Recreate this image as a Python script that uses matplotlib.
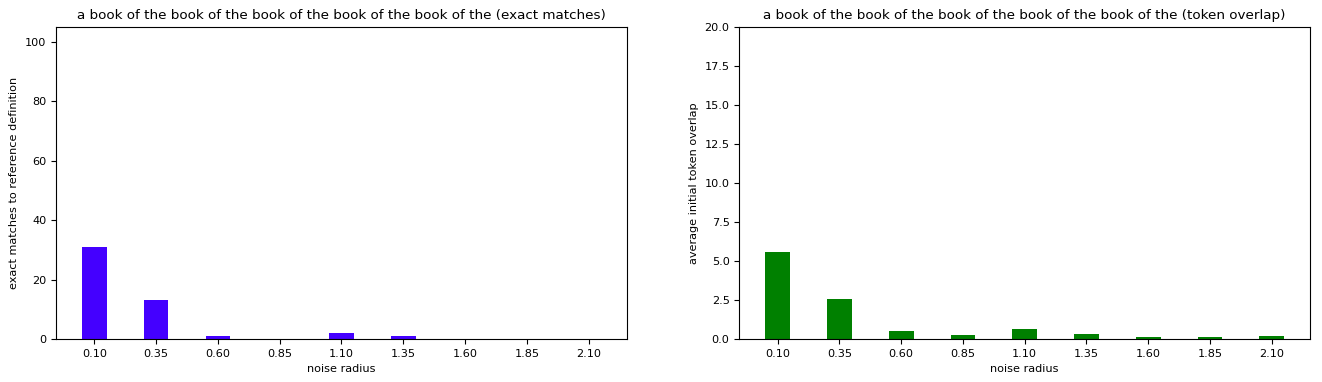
import numpy as np
from matplotlib import pyplot as plt

radius = [0.10, 0.35, 0.60, 0.85, 1.10, 1.35, 1.60, 1.85, 2.10]
tick_labels = ["0.10", "0.35", "0.60", "0.85", "1.10", "1.35", "1.60", "1.85", "2.10"]
exact_matches = [31, 13, 1, 0, 2, 1, 0, 0, 0]
token_overlap = [5.6, 2.55, 0.52, 0.26, 0.62, 0.3, 0.1, 0.1, 0.16]

phrase = "a book of the book of the book of the book of the book of the"

plt.rcParams["font.size"] = 8.1
plt.rcParams["axes.titlesize"] = 9.7

fig, axs = plt.subplots(1, 2, figsize=(13.22, 3.82), dpi=100)
fig.subplots_adjust(left=0.0424, right=0.991, top=0.929, bottom=0.1126, wspace=0.197)

axs[0].bar(radius, exact_matches, width=0.1, color="#4400ff")
axs[0].set_xticks(radius)
axs[0].set_xticklabels(tick_labels)
axs[0].set_ylim(0, 105)
axs[0].set_xlabel("noise radius")
axs[0].set_ylabel("exact matches to reference definition")
axs[0].set_title(phrase + " (exact matches)")

axs[1].bar(radius, token_overlap, width=0.1, color="green")
axs[1].set_xticks(radius)
axs[1].set_xticklabels(tick_labels)
axs[1].set_ylim(0, 20)
axs[1].set_xlabel("noise radius")
axs[1].set_ylabel("average initial token overlap")
axs[1].set_title(phrase + " (token overlap)")

plt.savefig("out.png")
